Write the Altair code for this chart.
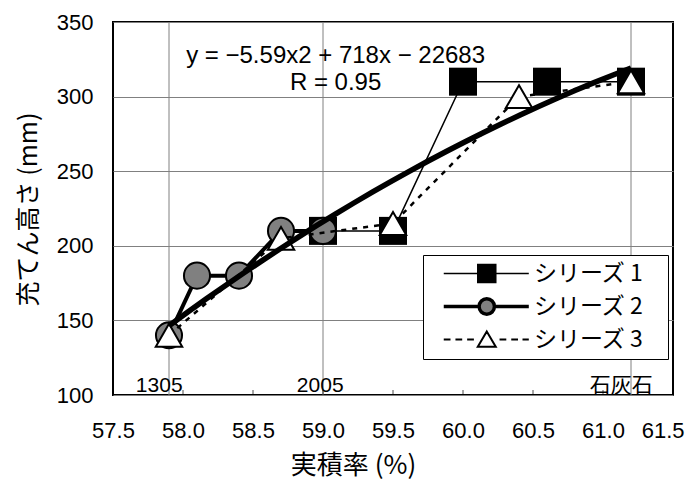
import altair as alt
import pandas as pd

# ---------------- data ----------------
series_names = ["シリーズ 1", "シリーズ 2", "シリーズ 3"]
s1_x = [59.0, 59.5, 60.0, 60.6, 61.2]
s1_y = [210, 210, 310, 310, 310]
s2_x = [57.9, 58.1, 58.4, 58.7, 59.0]
s2_y = [140, 180, 180, 210, 210]
s3_x = [57.9, 58.7, 59.5, 60.4, 61.2]
s3_y = [140, 205, 215, 300, 310]

x_tick_values = [57.5, 58.0, 58.5, 59.0, 59.5, 60.0, 60.5, 61.0, 61.5]
y_tick_values = [100, 150, 200, 250, 300, 350]

vline_x = [57.9, 59.0, 61.2]
vline_labels = ["1305", "2005", "石灰石"]
vline_label_x = [57.83, 58.98, 61.13]

annot_text = ["y = −5.59x2 + 718x − 22683", "R = 0.95"]
annot_x = [59.09, 59.09]
annot_y = [327, 309]

x_title = "実積率 (%)"
y_title = "充てん高さ (mm)"

rows = []
for name, xs, ys in zip(series_names, [s1_x, s2_x, s3_x], [s1_y, s2_y, s3_y]):
    for i, (xv, yv) in enumerate(zip(xs, ys)):
        rows.append({"series": name, "x": xv, "y": yv, "order": i})
df = pd.DataFrame(rows)

vlines = pd.DataFrame({"x": vline_x})
vlabels = pd.DataFrame({"x": vline_label_x, "label": vline_labels})
ticks = pd.DataFrame({"x": x_tick_values})
annots = pd.DataFrame({"x": annot_x, "y": annot_y, "text": annot_text})

NUM_FONT = "Liberation Sans"
JP_FONT = "Noto Sans CJK JP"
MIX_FONT = "Liberation Sans, Noto Sans CJK JP"
GRID = "#808080"

xscale = alt.Scale(domain=[57.5, 61.5], nice=False, zero=False)
yscale = alt.Scale(domain=[100, 350], nice=False, zero=False)

last_tick = "datum.value >= 61.4"
X = alt.X(
    "x:Q", scale=xscale,
    axis=alt.Axis(
        values=x_tick_values, format=".1f", grid=False, ticks=False, domain=False,
        labelFlush=False, labelOverlap=False,
        labelAlign={"condition": {"test": last_tick, "value": "right"}, "value": "center"},
        labelOffset={"condition": {"test": last_tick, "value": 11}, "value": 0},
        labelFont=NUM_FONT, labelFontSize=22, labelPadding=25, labelColor="black",
        title=x_title, titleFont=JP_FONT, titleFontSize=26, titleFontWeight="normal",
        titleColor="black", titleX=240, titleY=70, titleBaseline="middle", titleAlign="center",
    ),
)
Y = alt.Y(
    "y:Q", scale=yscale,
    axis=alt.Axis(
        values=y_tick_values, grid=True, gridColor=GRID, gridWidth=1, ticks=False, domain=False,
        labelFlush=False, labelOverlap=False,
        labelFont=NUM_FONT, labelFontSize=22, labelPadding=20, labelColor="black",
        title=y_title, titleFont=JP_FONT, titleFontSize=25, titleFontWeight="normal",
        titleColor="black", titleX=-85, titleY=187, titleAngle=270,
        titleBaseline="middle", titleAlign="center",
    ),
)
Xp = alt.X("x:Q", scale=xscale)
Yp = alt.Y("y:Q", scale=yscale)

base = alt.Chart(df)

vrule = alt.Chart(vlines).mark_rule(color=GRID, strokeWidth=1).encode(x=Xp)
tickmarks = alt.Chart(ticks).mark_tick(
    orient="vertical", size=10, thickness=1, color="black", clip=True
).encode(x=Xp, y=alt.datum(100))
vtext = alt.Chart(vlabels).mark_text(
    font=MIX_FONT, fontSize=21, baseline="alphabetic", dy=-3, color="black"
).encode(x=Xp, y=alt.datum(100), text="label:N")

def sfilter(name):
    return alt.datum.series == name

line1 = base.transform_filter(sfilter(series_names[0])).mark_line(
    color="black", strokeWidth=1.5).encode(x=X, y=Y, order="order:Q")
pts1 = base.transform_filter(sfilter(series_names[0])).mark_point(
    shape="square", filled=True, fill="black", size=784, opacity=1).encode(x=Xp, y=Yp)

line2 = base.transform_filter(sfilter(series_names[1])).mark_line(
    color="black", strokeWidth=4).encode(x=Xp, y=Yp, order="order:Q")
pts2 = base.transform_filter(sfilter(series_names[1])).mark_point(
    shape="circle", filled=True, fill="#808080", stroke="black", strokeWidth=2,
    size=680, opacity=1).encode(x=Xp, y=Yp)

line3 = base.transform_filter(sfilter(series_names[2])).mark_line(
    color="black", strokeWidth=2.5, strokeDash=[5, 6]).encode(x=Xp, y=Yp, order="order:Q")
pts3 = base.transform_filter(sfilter(series_names[2])).mark_point(
    shape="triangle-up", filled=True, fill="white", stroke="black", strokeWidth=2,
    size=700, opacity=1).encode(x=Xp, y=Yp)

trend = base.transform_regression(
    "x", "y", method="poly", order=2, extent=[57.9, 61.2]
).mark_line(color="black", strokeWidth=5.5).encode(x=Xp, y=Yp)

annot = alt.Chart(annots).mark_text(
    font=NUM_FONT, fontSize=24, align="center", baseline="middle", color="black"
).encode(x=Xp, y=Yp, text="text:N")

# legend symbols (unit = sqrt(symbolSize)/2 px)
p1 = "M0.25,0H9.7M4.03,-1H6.03V1H4.03Z"
p2 = ("M0.25,0H4.18M5.88,0H9.7M5.88,0A0.85,0.85 0 1,1 4.18,0"
      "A0.85,0.85 0 1,1 5.88,0Z")
p3 = ("M0.25,0H1.0M1.55,0H2.3M2.85,0H3.6M6.45,0H7.2M7.75,0H8.5M9.0,0H9.7"
      "M5.03,-0.9L6.03,0.8L4.03,0.8Z")

leg = dict(
    title=None, orient="none", legendX=310, legendY=233, padding=7,
    strokeColor="black", fillColor="white", labelFont=JP_FONT, labelFontSize=23,
    labelColor="black", labelOffset=81, symbolSize=324, rowPadding=5,
    symbolStrokeColor="black", labelLimit=400, cornerRadius=0,
    labelExpr="datum.label + '\u2800'",
)
legend_layer = base.transform_filter("false").mark_point(
    filled=True, opacity=1
).encode(
    x=Xp, y=Yp,
    shape=alt.Shape("series:N", scale=alt.Scale(domain=series_names, range=[p1, p2, p3]),
                    legend=alt.Legend(**leg)),
    fill=alt.Fill("series:N", scale=alt.Scale(domain=series_names,
                                              range=["black", "#808080", "white"]),
                  legend=alt.Legend(**leg)),
    stroke=alt.Stroke("series:N", scale=alt.Scale(domain=series_names,
                                                  range=["black", "black", "black"]),
                      legend=alt.Legend(**leg)),
    strokeWidth=alt.StrokeWidth("series:N", scale=alt.Scale(type="ordinal", domain=series_names,
                                                            range=[1.5, 3.5, 2]),
                                legend=alt.Legend(**leg)),
)

chart = alt.layer(
    vrule, tickmarks, vtext, line1, pts1, line2, pts2, line3, pts3, trend, annot, legend_layer
).properties(
    width=560, height=373,
    autosize=alt.AutoSizeParams(type="none"),
    padding={"left": 105, "top": 14, "right": 12, "bottom": 86},
    background="white",
).configure_view(stroke="black", strokeWidth=2)

chart.save("out.html", embed_options={"renderer": "svg", "actions": False})
